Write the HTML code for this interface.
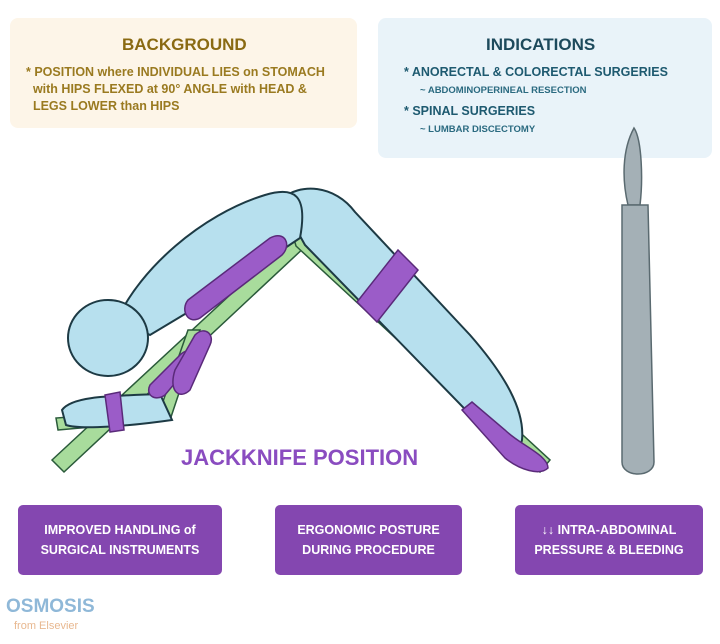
<!DOCTYPE html>
<html><head><meta charset="utf-8"><style>
*{margin:0;padding:0;box-sizing:border-box}
body{width:720px;height:644px;background:#fff;position:relative;overflow:hidden;font-family:"Liberation Sans",sans-serif;font-weight:bold}
.box{position:absolute;border-radius:8px}
.t{position:absolute;white-space:nowrap}
.p{position:absolute;background:#8447b0;border-radius:5px;color:#fff;font-size:12.5px;text-align:center;display:flex;align-items:center;justify-content:center;line-height:20px}
</style></head><body>
<div class="box" style="left:10px;top:18px;width:347px;height:110px;background:#fdf5e8"></div>
<div class="t" style="left:122px;top:35px;font-size:17px;color:#8a6a12">BACKGROUND</div>
<div class="t" style="left:26px;top:64px;font-size:12.5px;color:#9a7a20;line-height:17px">* POSITION where INDIVIDUAL LIES on STOMACH<br>&nbsp;&nbsp;with HIPS FLEXED at 90° ANGLE with HEAD &amp;<br>&nbsp;&nbsp;LEGS LOWER than HIPS</div>
<div class="box" style="left:378px;top:18px;width:334px;height:140px;background:#e9f3f9"></div>
<div class="t" style="left:486px;top:35px;font-size:17px;color:#1d4a5c">INDICATIONS</div>
<div class="t" style="left:404px;top:65px;font-size:12.5px;color:#1e5a70">* ANORECTAL &amp; COLORECTAL SURGERIES</div>
<div class="t" style="left:420px;top:85px;font-size:9.5px;color:#2a6a80">~ ABDOMINOPERINEAL RESECTION</div>
<div class="t" style="left:404px;top:104px;font-size:12.5px;color:#1e5a70">* SPINAL SURGERIES</div>
<div class="t" style="left:420px;top:124px;font-size:9.5px;color:#2a6a80">~ LUMBAR DISCECTOMY</div>
<svg width="720" height="644" style="position:absolute;left:0;top:0">
<g stroke="#2a5a3a" stroke-width="1.5" fill="#a8dc9c">
<polygon points="52,460 300,230 308,244 64,472"/>
<polygon points="292,232 300,230 550,460 540,472 296,246"/>
<polygon points="58,430 170,420 200,330 188,330 160,410 56,418"/>
</g>
<g stroke="#1d3a44" stroke-width="2" fill="#b7e0ee">
<path d="M280,200 C300,182 335,185 355,212 L470,335 C505,375 525,410 522,440 C518,458 505,455 495,440 L305,245 Z"/>
<path d="M118,318 C140,270 200,215 265,195 C295,186 308,195 300,238 L200,305 L150,335 Z"/>
<path d="M62,410 C72,396 110,396 160,394 L172,420 C130,426 80,430 66,425 Z"/>
<ellipse cx="108" cy="338" rx="40" ry="38"/>
</g>
<g stroke="#5a2a7a" stroke-width="1.5" fill="#9b5cc8">
<path d="M188,300 L270,238 C285,230 292,245 282,255 L200,318 C188,325 180,310 188,300Z"/>
<path d="M150,385 L180,355 C190,345 198,355 190,365 L165,395 C155,402 145,395 150,385Z"/>
<path d="M175,370 L195,335 C205,325 215,335 210,345 L190,390 C180,400 168,392 175,370Z"/>
<path d="M357,302 L398,250 L418,270 L377,322 Z"/>
<path d="M105,395 L120,392 L124,430 L110,432 Z"/>
<path d="M462,410 L472,402 L505,430 C520,445 548,455 548,468 C540,476 520,470 505,458 Z"/>
</g>
<g stroke="#5a6a70" stroke-width="1.5" fill="#a4b0b6">
<path d="M628,205 C622,180 622,150 634,128 C642,140 643,180 640,205 Z"/>
<path d="M622,205 L648,205 L654,462 C654,478 622,478 622,462 Z"/>
</g>
</svg>
<div class="t" style="left:181px;top:445px;font-size:22px;color:#8a4cc0">JACKKNIFE POSITION</div>
<div class="p" style="left:18px;top:505px;width:204px;height:70px">IMPROVED HANDLING of<br>SURGICAL INSTRUMENTS</div>
<div class="p" style="left:275px;top:505px;width:187px;height:70px">ERGONOMIC POSTURE<br>DURING PROCEDURE</div>
<div class="p" style="left:515px;top:505px;width:188px;height:70px">↓↓ INTRA-ABDOMINAL<br>PRESSURE &amp; BLEEDING</div>
<div class="t" style="left:6px;top:596px;font-size:19px;color:#8fb8d8">OSMOSIS</div>
<div class="t" style="left:14px;top:620px;font-size:11px;font-weight:normal;color:#e8b890">from Elsevier</div>
</body></html>
